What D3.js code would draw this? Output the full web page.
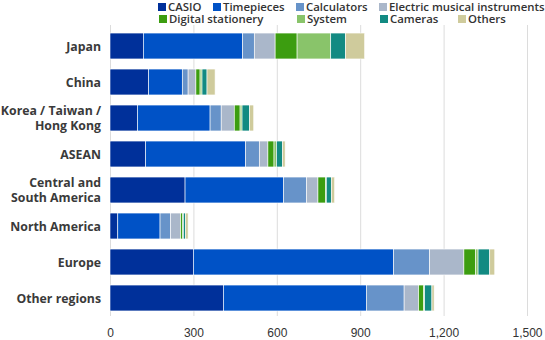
<!DOCTYPE html>
<html>
<head>
<meta charset="utf-8">
<title>Sales by region</title>
<script src="https://d3js.org/d3.v7.min.js"></script>
<style>
  body { margin: 0; background: #fff; }
  svg { font-family: "Open Sans", sans-serif; }
  .cat { font-size: 12.3px; font-weight: 700; fill: #3a3a3a; }
  .tick text { font-size: 12px; fill: #333; }
  .legend text { font-size: 11.4px; font-weight: 600; fill: #333; }
</style>
</head>
<body>
<svg width="545" height="340"></svg>
<script>
const regions = ["Japan", "China", "Korea / Taiwan /\nHong Kong", "ASEAN",
  "Central and\nSouth America", "North America", "Europe", "Other regions"];
const series = ["CASIO", "Timepieces", "Calculators", "Electric musical instruments",
  "Digital stationery", "System", "Cameras", "Others"];
const colors = ["#00309a", "#0052c6", "#6793c9", "#aab7ca", "#3c9d10", "#89c46a", "#128a82", "#cfcb9c"];

// values per series, one entry per region (order as regions)
const casio       = [120, 139, 99, 128, 270, 28, 300, 408];
const timepieces  = [357, 121, 261, 360, 354, 152, 720, 514];
const calculators = [42, 21, 40, 49, 83, 38, 130, 136];
const emi         = [75, 28, 47, 31, 41, 36, 123, 52];
const digital     = [79, 15, 21, 22, 28, 6, 42, 17];
const system      = [121, 7, 7, 9, 2, 4, 9, 5];
const cameras     = [53, 18, 27, 21, 18, 7, 42, 26];
const others      = [69, 29, 15, 10, 12, 10, 18, 8];
const xTicks = [0, 300, 600, 900, 1200, 1500];

const values = [casio, timepieces, calculators, emi, digital, system, cameras, others];
const rows = regions.map((r, i) => {
  const o = { region: r };
  series.forEach((s, j) => { o[s] = values[j][i]; });
  return o;
});

const svg = d3.select("svg");
const x = d3.scaleLinear().domain([0, 1500]).range([110, 527]);
const y = d3.scaleBand().domain(regions).range([28, 316])
  .paddingInner(0.28).paddingOuter(0.14);

// grid
svg.append("g")
  .attr("transform", "translate(0,316)")
  .call(d3.axisBottom(x).tickValues(xTicks).tickSize(-291).tickFormat(d3.format(",")))
  .call(g => g.select(".domain").remove())
  .call(g => g.selectAll(".tick line").attr("stroke", "#dcdcdc"))
  .call(g => g.selectAll(".tick text").attr("dy", "1.5em"));

const stack = d3.stack().keys(series)(rows);

svg.append("g").selectAll("g")
  .data(stack)
  .join("g")
  .attr("fill", (d, i) => colors[i])
  .selectAll("rect")
  .data(d => d)
  .join("rect")
  .attr("x", d => x(d[0]))
  .attr("y", d => y(d.data.region))
  .attr("width", d => x(d[1]) - x(d[0]))
  .attr("height", y.bandwidth())
  .attr("stroke", "#fff")
  .attr("stroke-width", 0.6);

// category labels
svg.append("g").selectAll("text")
  .data(regions)
  .join("text")
  .attr("class", "cat")
  .attr("text-anchor", "end")
  .attr("x", 101)
  .each(function (d) {
    const lines = d.split("\n");
    const cy = y(d) + y.bandwidth() / 2;
    const t = d3.select(this);
    lines.forEach((l, i) => {
      t.append("tspan")
        .attr("x", 101)
        .attr("y", cy + (i - (lines.length - 1) / 2) * 15 + 4.5)
        .text(l);
    });
  });

// legend
const legendPos = [[158, 7], [213, 7], [296, 7], [379, 7], [159, 19], [297, 19], [380, 19], [458, 19]];
const leg = svg.append("g").attr("class", "legend");
series.forEach((s, i) => {
  const [lx, ly] = legendPos[i];
  leg.append("rect").attr("x", lx).attr("y", ly - 4).attr("width", 8).attr("height", 8).attr("fill", colors[i]);
  leg.append("text").attr("x", lx + 10).attr("y", ly + 4.3).text(s);
});
</script>
</body>
</html>
